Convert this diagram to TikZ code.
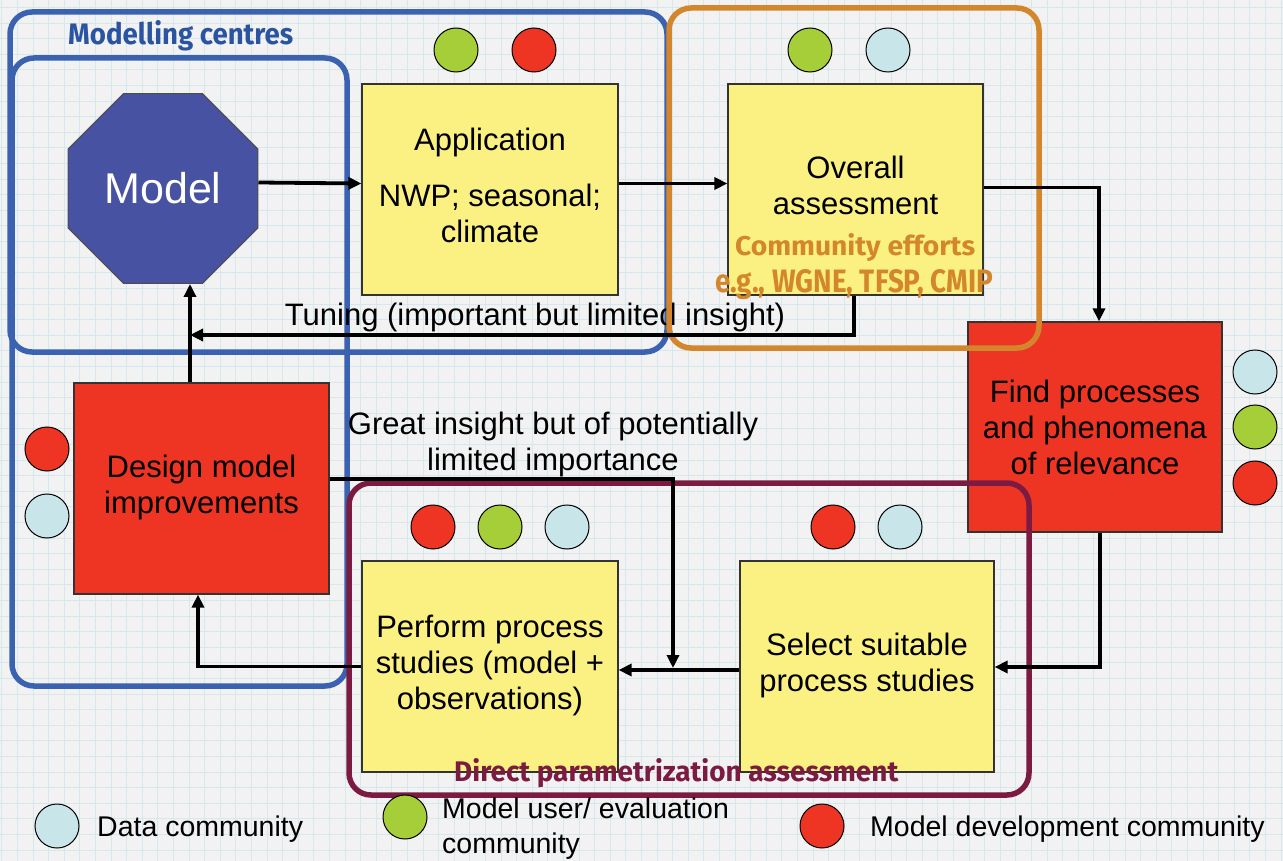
\documentclass[tikz,border=0pt]{standalone}
\usepackage{fontspec}
\setmainfont{Liberation Sans}
\newfontfamily\hand{Fira Sans}
\usetikzlibrary{arrows.meta,shapes.geometric,calc}
\definecolor{bgcol}{RGB}{242,242,242}
\definecolor{gridcol}{RGB}{214,231,237}
\definecolor{yel}{RGB}{251,241,130}
\definecolor{redf}{RGB}{238,53,36}
\definecolor{modelblue}{RGB}{72,82,163}
\definecolor{greend}{RGB}{166,206,57}
\definecolor{blued}{RGB}{200,230,234}
\definecolor{groupblue}{RGB}{58,98,176}
\definecolor{labelblue}{RGB}{43,84,160}
\definecolor{orng}{RGB}{212,134,44}
\definecolor{maroon}{RGB}{124,27,66}
\tikzset{
  stepbox/.style={draw=black!80, line width=1.2pt, minimum width=255pt, minimum height=211pt, align=center, inner sep=0pt, font=\fontsize{31}{36}\selectfont},
  yelbox/.style={stepbox, fill=yel},
  redbox/.style={stepbox, fill=redf},
  dot/.style={circle, draw=black, line width=1pt, minimum size=44pt, inner sep=0pt},
  conn/.style={draw=black, line width=3.8pt, -{Triangle[length=13pt,width=12pt]}},
  group/.style={draw, line width=5.5pt, rounded corners=22pt},
  lbl/.style={font=\fontsize{31}{36}\selectfont, align=center, inner sep=0pt},
  leg/.style={font=\fontsize{28.5}{35}\selectfont, align=left, inner sep=0pt},
  handlbl/.style={inner sep=0pt, anchor=base west, font=\hand\bfseries}
}
\begin{document}
\begin{tikzpicture}[x=1pt,y=-1pt]
\useasboundingbox (0,0) rectangle (1283,861);
% background with grid
\fill[bgcol] (0,0) rectangle (1283,861);
\foreach \i in {0,...,82} \draw[gridcol, line width=1pt] (1.9+\i*15.6,0) -- ++(0,861);
\foreach \j in {0,...,55} \draw[gridcol, line width=1pt] (0,7.6+\j*15.6) -- ++(1283,0);

% blue groups
\draw[group, draw=groupblue] (10,12) rectangle (667,352);
\draw[group, draw=groupblue] (12,58) rectangle (347,686);

% main nodes
\node[regular polygon, regular polygon sides=8, minimum size=205.6pt, inner sep=0pt,
      fill=modelblue, draw=black!70, line width=1pt, text=white,
      font=\fontsize{43}{50}\selectfont] (model) at (163,188.5) {Model};
\node[yelbox, minimum width=256pt] (app) at (490,189.5) {\raisebox{3pt}{\begin{tabular}{@{}c@{}}Application\\[20pt]NWP; seasonal;\\climate\end{tabular}}};
\node[yelbox] (overall) at (855.5,189.5) {\raisebox{4pt}{\begin{tabular}{@{}c@{}}Overall\\assessment\end{tabular}}};
\node[redbox, minimum width=254pt, minimum height=210pt] (find) at (1095,427) {Find processes\\and phenomena\\of relevance};
\node[redbox] (design) at (201.5,488.5) {\raisebox{2pt}{\begin{tabular}{@{}c@{}}Design model\\improvements\end{tabular}}};
\node[yelbox, minimum width=256pt] (perform) at (490,666.5) {\raisebox{5pt}{\begin{tabular}{@{}c@{}}Perform process\\studies (model +\\observations)\end{tabular}}};
\node[yelbox, minimum width=254pt] (select) at (867,666.5) {\raisebox{3pt}{\begin{tabular}{@{}c@{}}Select suitable\\process studies\end{tabular}}};

% community dots
\node[dot, fill=greend] (a1) at (456,50) {};
\node[dot, fill=redf]   (a2) at (534,50) {};
\node[dot, fill=greend] (o1) at (810,50) {};
\node[dot, fill=blued]  (o2) at (888,50) {};
\node[dot, fill=blued]  (f1) at (1255,372) {};
\node[dot, fill=greend] (f2) at (1255,427) {};
\node[dot, fill=redf]   (f3) at (1255,483) {};
\node[dot, fill=redf]   (g1) at (47,449) {};
\node[dot, fill=blued]  (g2) at (47,516) {};
\node[dot, fill=redf]   (p1) at (433,527) {};
\node[dot, fill=greend] (p2) at (500,527) {};
\node[dot, fill=blued]  (p3) at (567,527) {};
\node[dot, fill=redf]   (s1) at (833,527) {};
\node[dot, fill=blued]  (s2) at (900,527) {};

% tuning label (under orange box)
\node[lbl] (tunlbl) at (535,317) {Tuning (important but limited insight)};

% orange and purple groups
\draw[group, draw=orng] (669,8) rectangle (1039,348);
\draw[group, draw=maroon] (349,483) rectangle (1029,795);

% connectors
\coordinate (tj) at (190,335);
\coordinate (gi) at (673,668);
\draw[conn] ([yshift=6pt]model.east) -- ([yshift=6pt]app.west);
\draw[conn] ([yshift=6pt]app.east) -- ([yshift=6pt]overall.west);
\draw[conn] ([yshift=2pt]overall.east) -| ([xshift=4pt]find.north);
\draw[conn] ([xshift=-1.5pt]overall.south) |- (tj);
\draw[conn] (design.north -| tj) -- (model.south -| tj);
\draw[conn] ([yshift=9.5pt]design.east) -| (gi);
\draw[conn] ([yshift=-3.5pt]select.west) -- ([yshift=-3.5pt]perform.east);
\draw[conn] ([xshift=5pt]find.south) |- ([yshift=-0.5pt]select.east);
\draw[conn] (perform.west) -| ([xshift=-3.5pt]design.south);

% other labels
\node[lbl] (gilbl) at (553,444) {Great insight but of potentially\\limited importance};

% handwritten labels
\node[handlbl, text=labelblue] (mc) at (68,45) {\resizebox{225pt}{24pt}{Modelling centres}};
\node[handlbl, text=orng] (ce1) at (735,256) {\resizebox{240pt}{22pt}{Community efforts}};
\node[handlbl, text=orng] (ce2) at (715,292) {\resizebox{278pt}{23pt}{e.g., WGNE, TFSP, CMIP}};
\node[handlbl, text=maroon] (dpa) at (454,781) {\resizebox{444pt}{23pt}{Direct parametrization assessment}};

% legend
\node[dot, fill=blued]  (l1) at (57,826) {};
\node[leg, anchor=west] (l1t) at (97,829) {Data community};
\node[dot, fill=greend] (l2) at (405,817) {};
\node[leg, anchor=west] (l2t) at (442,828.5) {Model user/ evaluation\\community};
\node[dot, fill=redf]   (l3) at (822,826) {};
\node[leg, anchor=west] (l3t) at (870,829) {Model development community};
\end{tikzpicture}
\end{document}
